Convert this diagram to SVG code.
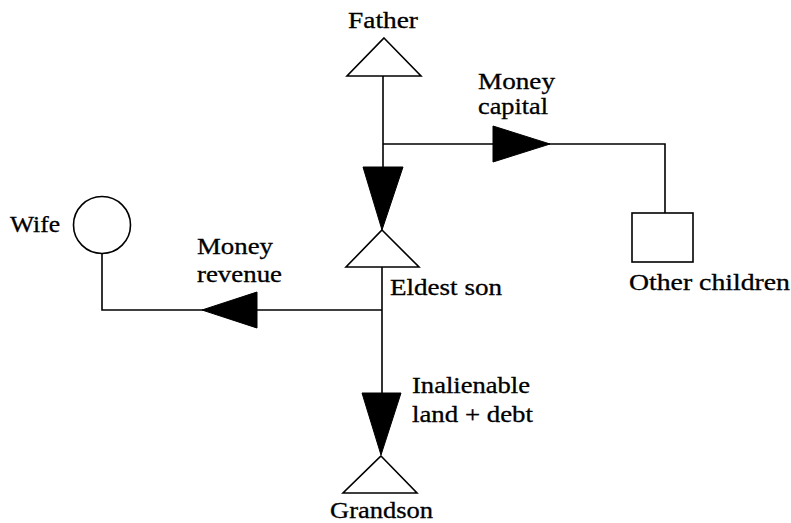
<svg xmlns="http://www.w3.org/2000/svg" width="791" height="523" viewBox="0 0 791 523">
<style>
.ln{fill:none;stroke:#000;stroke-width:1.6}
.nd{fill:#fff;stroke:#000;stroke-width:1.6}
.ar{fill:#000;stroke:#000;stroke-width:1}
.t{font-family:'Liberation Serif','DejaVu Serif',serif;font-size:23px;fill:#000;stroke:#000;stroke-width:0.3}
</style>
<rect width="791" height="523" fill="#fff"/>
<g id="connectors">
<polyline class="ln" points="383,76 383,167"/>
<polyline class="ln" points="383,144 665,144 665,213"/>
<polyline class="ln" points="382,267 382,393"/>
<polyline class="ln" points="382,310 102,310 102,254"/>
<polygon class="ar" points="363,167 403,167 382,230"/>
<polygon class="ar" points="493,126 550,144 493,162"/>
<polygon class="ar" points="257,292 202,310 257,328"/>
<polygon class="ar" points="362,393 401,393 381,455"/>
<text class="t" x="478" y="89" textLength="77" lengthAdjust="spacingAndGlyphs">Money</text>
<text class="t" x="478" y="114" textLength="70" lengthAdjust="spacingAndGlyphs">capital</text>
<text class="t" x="197" y="254" textLength="76" lengthAdjust="spacingAndGlyphs">Money</text>
<text class="t" x="197" y="282" textLength="85" lengthAdjust="spacingAndGlyphs">revenue</text>
<text class="t" x="412" y="393" textLength="118" lengthAdjust="spacingAndGlyphs">Inalienable</text>
<text class="t" x="412" y="422" textLength="121" lengthAdjust="spacingAndGlyphs">land + debt</text>
</g>
<g id="father">
<polygon class="nd" points="384,38 421,76 347,76"/>
<text class="t" x="348" y="28" textLength="70" lengthAdjust="spacingAndGlyphs">Father</text>
</g>
<g id="eldest-son">
<polygon class="nd" points="382,230 419,267 346,267"/>
<text class="t" x="390" y="295" textLength="112" lengthAdjust="spacingAndGlyphs">Eldest son</text>
</g>
<g id="other-children">
<rect class="nd" x="632" y="213" width="61" height="49"/>
<text class="t" x="629" y="290" textLength="161" lengthAdjust="spacingAndGlyphs">Other children</text>
</g>
<g id="wife">
<circle class="nd" cx="102" cy="225" r="28.5"/>
<text class="t" x="10" y="232" textLength="50" lengthAdjust="spacingAndGlyphs">Wife</text>
</g>
<g id="grandson">
<polygon class="nd" points="381,456 417,493 343,493"/>
<text class="t" x="330" y="518" textLength="103" lengthAdjust="spacingAndGlyphs">Grandson</text>
</g>
</svg>
